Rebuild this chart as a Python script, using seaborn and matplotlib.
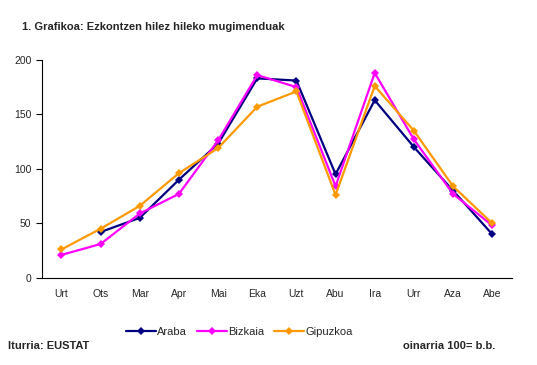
import numpy as np
import pandas as pd
import matplotlib
matplotlib.use("Agg")
import matplotlib.pyplot as plt
import seaborn as sns

# data (index, 100 = yearly average)
months = ['Urt', 'Ots', 'Mar', 'Apr', 'Mai', 'Eka', 'Uzt', 'Abu', 'Ira', 'Urr', 'Aza', 'Abe']
araba = [np.nan, 42, 55, 90, 123, 183, 181, 95, 163, 120, 80, 40]
bizkaia = [21, 31, 59, 77, 126, 186, 175, 84, 188, 127, 77, 48]
gipuzkoa = [26, 45, 66, 96, 119, 157, 171, 76, 176, 135, 84, 50]
regions = ['Araba', 'Bizkaia', 'Gipuzkoa']
colors = ['#000080', '#FF00FF', '#FF9900']

# long form table for seaborn
rows = []
for name, vals in zip(regions, [araba, bizkaia, gipuzkoa]):
    for i, v in enumerate(vals):
        rows.append({'pos': i, 'value': v, 'region': name})
df = pd.DataFrame(rows).dropna()

sns.set_style("white")
plt.rcParams['font.family'] = ['Liberation Sans', 'DejaVu Sans']

fig = plt.figure(figsize=(5.37, 3.65), dpi=100)
ax = fig.add_axes([0.078, 0.239, 0.875, 0.597])

sns.lineplot(data=df, x='pos', y='value', hue='region', hue_order=regions,
             palette=colors, marker='D', markersize=4, markeredgewidth=0,
             linewidth=1.6, sort=False, ax=ax)

ax.set_xlim(-0.5, 11.5)
ax.set_ylim(0, 200)
ax.set_yticks([0, 50, 100, 150, 200])
# category labels centred, tick marks on category boundaries
ax.set_xticks(np.arange(12))
ax.set_xticklabels(months)
ax.set_xticks(np.arange(-0.5, 12, 1), minor=True)
ax.tick_params(axis='x', which='major', length=0, pad=8, labelsize=7.5)
ax.tick_params(axis='x', which='minor', length=4, width=0.8, direction='out', color='black')
ax.tick_params(axis='y', length=4, width=0.8, direction='out', color='black', labelsize=7.5, left=True)
ax.set_xlabel('')
ax.set_ylabel('')
for s in ['top', 'right']:
    ax.spines[s].set_visible(False)
for s in ['left', 'bottom']:
    ax.spines[s].set_color('black')
    ax.spines[s].set_linewidth(0.8)

leg = ax.legend(loc='center', bbox_to_anchor=(0.42, -0.25), ncol=3, frameon=False,
                fontsize=8, handlelength=2.7, columnspacing=0.9, handletextpad=0.1)

fig.text(0.041, 0.925, '1. Grafikoa: Ezkontzen hilez hileko mugimenduak',
         fontsize=8, fontweight='bold', va='center')
fig.text(0.015, 0.052, 'Iturria: EUSTAT', fontsize=8, fontweight='bold', va='center')
fig.text(0.922, 0.052, 'oinarria 100= b.b.', fontsize=8, fontweight='bold', va='center', ha='right')

fig.savefig('out.png', dpi=100)
